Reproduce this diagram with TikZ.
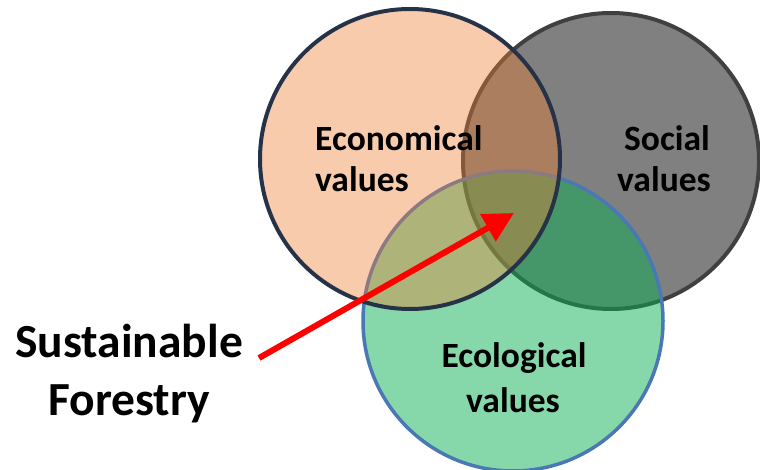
\documentclass[tikz,border=0pt]{standalone}
\usepackage{fontspec}
\setmainfont{Carlito}
\usetikzlibrary{arrows.meta}

\definecolor{socialfill}{RGB}{128,128,128}
\definecolor{socialline}{RGB}{64,64,64}
\definecolor{ecofill}{RGB}{8,175,82}
\definecolor{ecoline}{RGB}{74,120,180}
\definecolor{econfill}{RGB}{237,125,49}
\definecolor{econline}{RGB}{38,50,72}
\definecolor{arrowred}{RGB}{255,0,0}

\tikzset{
  valuecircle/.style={line width=4pt},
  circlelabel/.style={font=\bfseries\fontsize{35.5}{41}\selectfont, inner sep=0pt, text=black},
  biglabel/.style={font=\bfseries\fontsize{47.5}{58}\selectfont, inner sep=0pt, text=black},
  pointer/.style={draw=arrowred, line width=6pt,
    -{Triangle[length=30pt,width=30pt]}}
}

\begin{document}
\begin{tikzpicture}[x=1pt,y=-1pt]
  \useasboundingbox (0,0) rectangle (760,470);

  % Social values: bottom layer, opaque
  \draw[valuecircle, draw=socialline, fill=socialfill] (611,161) circle[radius=148];
  % Ecological values: translucent green over the social circle
  \fill[ecofill, fill opacity=0.49] (513,321) circle[radius=150];
  \draw[valuecircle, line width=3.5pt, draw=ecoline] (513,321) circle[radius=150];
  % Economical values: translucent orange on top
  \fill[econfill, fill opacity=0.4] (410,159) circle[radius=150];
  \draw[valuecircle, draw=econline] (410,159) circle[radius=150];

  % circle labels
  \node[circlelabel, anchor=base west] (econ1) at (315,151) {Economical};
  \node[circlelabel, anchor=base west] (econ2) at (315,192) {values};
  \node[circlelabel, anchor=base east] (soc1) at (710,151) {Social};
  \node[circlelabel, anchor=base east] (soc2) at (711,192) {values};
  \node[circlelabel, anchor=base] (eco1) at (514,367) {Ecological};
  \node[circlelabel, anchor=base] (eco2) at (513,412) {values};

  % outside label and pointer into the common overlap
  \node[biglabel, anchor=base] (sus) at (129,357) {Sustainable};
  \node[biglabel, anchor=base] (for) at (129,415) {Forestry};
  \coordinate (tail) at (259,358);
  \coordinate (tip) at (514,213);
  \draw[pointer] (tail) -- (tip);
\end{tikzpicture}
\end{document}
